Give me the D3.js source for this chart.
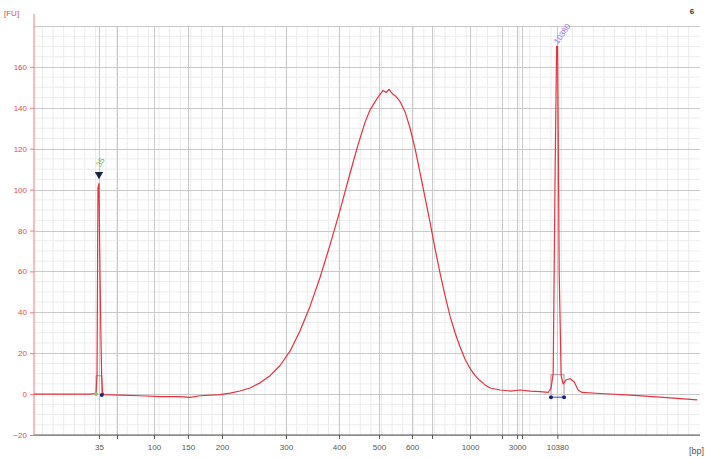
<!DOCTYPE html>
<html>
<head>
<meta charset="utf-8">
<script src="https://cdn.jsdelivr.net/npm/d3@7"></script>
<style>
  html, body { margin: 0; padding: 0; background: #fff; }
  svg { display: block; font-family: "Liberation Sans", Arial, sans-serif; }
</style>
</head>
<body>
<div id="chart"></div>
<script>
// Ladder: fragment sizes (bp) and their migration times (s)
const ladderBp = [35, 50, 100, 150, 200, 300, 400, 500, 600, 700, 1000, 2000, 3000, 7000, 10380];
const ladderTime = [43.0, 45.55, 50.79, 55.6, 60.42, 69.48, 76.99, 82.65, 87.33, 90.16, 95.54, 100.07, 102.2, 102.9, 107.9];
const labeledBp = [35, 100, 150, 200, 300, 400, 500, 600, 1000, 3000, 10380];

const yTicks = [-20, 0, 20, 40, 60, 80, 100, 120, 140, 160];

// Electropherogram trace: time (s) vs fluorescence (FU)
const traceTime = [33.8, 37.48, 41.73, 42.58, 42.72, 42.86, 43.0, 43.14, 43.28, 43.38, 43.5, 43.71,
  45.97, 48.81, 51.64, 54.47, 55.89, 57.31, 60.14, 61.56, 62.97, 64.39, 65.8, 67.22, 68.64, 70.05,
  71.47, 72.89, 74.3, 75.72, 77.14, 78.55, 79.69, 80.68, 81.39, 82.1, 82.67, 83.23, 83.66, 84.08,
  84.51, 85.07, 85.64, 86.34, 87.05, 87.76, 88.47, 89.18, 89.88, 90.59, 91.3, 92.01, 92.72, 93.42,
  94.13, 94.84, 95.55, 96.26, 96.97, 97.67, 98.38, 99.8, 101.22, 102.63, 104.05, 105.46, 106.6,
  107.02, 107.31, 107.59, 107.8, 107.94, 108.16, 108.44, 108.72, 109.15, 109.71, 110.28, 110.84,
  111.41, 113.96, 118.21, 122.46, 127.7];
const traceFU = [0, 0, 0, 0.3, 9, 101, 103, 60, 27, 9, 1, -0.3,
  -0.5, -0.8, -1.2, -1.2, -1.6, -0.8, -0.3, 0.5, 1.5, 3, 5.5, 9, 14, 21,
  31, 43, 57, 73, 90, 108, 122, 133, 139, 143, 146, 148.5, 147.5, 149,
  147, 145.5, 143, 138, 130, 120, 108, 96, 84, 71, 59, 48, 38, 30,
  23, 17, 12.5, 9, 6.5, 4.5, 3, 2, 1.5, 2, 1.5, 1.2, 0.8,
  3, 10, 110, 170, 170, 60, 9, 5, 7, 7.5, 6, 2,
  0.8, 0.3, -0.5, -1.5, -2.8];

// Markers: label, apex time, apex FU, integration window
const markerLabels = ["35", "10380"];
const markerTime = [43.0, 107.87];
const markerFU = [103, 170];
const markerStart = [42.6, 107.0];
const markerEnd = [43.4, 108.85];
const markerBoxFU = [9, 9.5];
const markerStartFU = [0, -1.5];
const markerEndFU = [-0.5, -1.5];

const width = 705, height = 458;
const margin = { top: 26, right: 5, bottom: 23, left: 34 };

const svg = d3.select("#chart").append("svg")
  .attr("width", width)
  .attr("height", height);

const x = d3.scaleLinear().domain([33.8, 128.1]).range([margin.left, width - margin.right]);
const y = d3.scaleLinear().domain([-20, 180]).range([height - margin.bottom, margin.top]);

// minor grid
const grid = svg.append("g");
grid.selectAll("line.hmin")
  .data(d3.range(-20, 181, 5).filter(v => v % 20 !== 0))
  .join("line")
  .attr("x1", x.range()[0]).attr("x2", x.range()[1])
  .attr("y1", d => y(d)).attr("y2", d => y(d))
  .attr("stroke", "#ececec").attr("stroke-width", 1);

grid.selectAll("line.vmin")
  .data(d3.range(35, 128, 1.5))
  .join("line")
  .attr("x1", d => x(d)).attr("x2", d => x(d))
  .attr("y1", y(-20)).attr("y2", y(180))
  .attr("stroke", "#ececec").attr("stroke-width", 1);

// major grid
grid.selectAll("line.hmaj")
  .data(d3.range(-20, 181, 20))
  .join("line")
  .attr("x1", x.range()[0]).attr("x2", x.range()[1])
  .attr("y1", d => Math.round(y(d)) + 0.5).attr("y2", d => Math.round(y(d)) + 0.5)
  .attr("stroke", "#c9c9c9").attr("stroke-width", 1);

grid.selectAll("line.vmaj")
  .data(ladderTime)
  .join("line")
  .attr("x1", d => Math.round(x(d)) + 0.5).attr("x2", d => Math.round(x(d)) + 0.5)
  .attr("y1", y(-20)).attr("y2", y(180))
  .attr("stroke", "#c9c9c9").attr("stroke-width", 1);

// x axis (bp labels at ladder positions)
const xAxis = d3.axisBottom(x)
  .tickValues(ladderTime)
  .tickSize(4)
  .tickFormat((d, i) => labeledBp.includes(ladderBp[i]) ? ladderBp[i] : "");

const gx = svg.append("g")
  .attr("transform", `translate(0,${y(-20)})`)
  .call(xAxis);
gx.select(".domain").attr("stroke", "#555").attr("d", `M${x.range()[0]},0H${x.range()[1]}`);
gx.selectAll(".tick line").attr("stroke", "#555");
gx.selectAll(".tick text")
  .attr("fill", "#555").attr("font-size", 8).attr("dy", "0.95em");

svg.append("text")
  .attr("x", width - 1).attr("y", height - 4)
  .attr("text-anchor", "end")
  .attr("fill", "#555").attr("font-size", 9)
  .text("[bp]");

// y axis
const yAxis = d3.axisLeft(y).tickValues(yTicks).tickSize(4);
const gy = svg.append("g")
  .attr("transform", `translate(${margin.left},0)`)
  .call(yAxis);
gy.select(".domain").attr("stroke", "#f07a7a").attr("d", `M0,${y(-20)}V14`);
gy.selectAll(".tick line").attr("stroke", "#f07a7a");
gy.selectAll(".tick text").attr("fill", "#e8474f").attr("font-size", 8);

svg.append("text")
  .attr("x", 4).attr("y", 16)
  .attr("fill", "#e8474f").attr("font-size", 8)
  .text("[FU]");

svg.append("text")
  .attr("x", 692).attr("y", 14)
  .attr("text-anchor", "middle")
  .attr("fill", "#333").attr("font-size", 8).attr("font-weight", "bold")
  .text("6");

// marker integration boxes
const boxes = svg.append("g");
markerLabels.forEach((m, i) => {
  boxes.append("path")
    .attr("d", `M${x(markerStart[i])},${y(0)}V${y(markerBoxFU[i])}H${x(markerEnd[i])}V${y(0)}`)
    .attr("fill", "none")
    .attr("stroke", "#b0707a")
    .attr("stroke-width", 0.8);
});

// trace
const line = d3.line()
  .x((d, i) => x(traceTime[i]))
  .y(d => y(d));

svg.append("path")
  .datum(traceFU)
  .attr("d", line)
  .attr("fill", "none")
  .attr("stroke", "#e8323c")
  .attr("stroke-width", 1.2)
  .attr("stroke-linejoin", "round");

// peak boundaries
const bounds = svg.append("g");
bounds.append("line")
  .attr("x1", x(markerStart[1])).attr("x2", x(markerEnd[1]))
  .attr("y1", y(markerStartFU[1])).attr("y2", y(markerEndFU[1]))
  .attr("stroke", "#3b46c8").attr("stroke-width", 1);
markerLabels.forEach((m, i) => {
  bounds.append("circle")
    .attr("cx", x(markerStart[i])).attr("cy", y(markerStartFU[i]))
    .attr("r", 2)
    .attr("fill", i === 0 ? "#9fbf5a" : "#1a237e");
  bounds.append("circle")
    .attr("cx", x(markerEnd[i])).attr("cy", y(markerEndFU[i]))
    .attr("r", 2)
    .attr("fill", "#1a237e");
});

// marker labels
const labelColors = ["#5cb85c", "#8a6de9"];
markerLabels.forEach((m, i) => {
  const px = x(markerTime[i]);
  const py = y(markerFU[i]);
  if (i === 0) {
    svg.append("path")
      .attr("d", d3.symbol(d3.symbolTriangle, 30)())
      .attr("transform", `translate(${px},${py - 9}) rotate(180)`)
      .attr("fill", "#1b2340");
  }
  const off = i === 0 ? 16 : 2;
  svg.append("text")
    .attr("transform", `translate(${px + 1},${py - off}) rotate(-55)`)
    .attr("fill", labelColors[i])
    .attr("font-size", 8)
    .text(m);
});
</script>
</body>
</html>
